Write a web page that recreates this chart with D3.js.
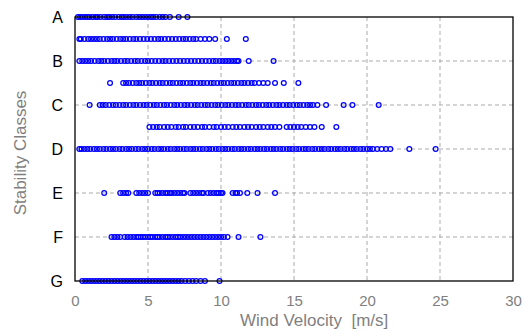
<!DOCTYPE html>
<html>
<head>
<meta charset="utf-8">
<script src="https://cdn.jsdelivr.net/npm/d3@7"></script>
<style>
  body { margin: 0; background: #fff; }
  text { font-family: Arial, "Liberation Sans", sans-serif; }
</style>
</head>
<body>
<svg id="chart" width="524" height="331"></svg>
<script>
// Stability class labels (one tick per class) and wind-speed axis ticks
const classLabels = ["A", "B", "C", "D", "E", "F", "G"];
const speedTicks = [0, 5, 10, 15, 20, 25, 30];

// Observed wind velocities [m/s] per stability class (and the transitional rows between them)
const speedsA = [0.2, 0.35, 0.5, 0.7, 0.85, 1.0, 1.2, 1.4, 1.55, 1.75, 2.0, 2.2, 2.35, 2.55, 2.75, 3.0, 3.2, 3.35,
  3.55, 3.75, 3.95, 4.2, 4.4, 4.6, 4.8, 5.0, 5.2, 5.35, 5.55, 5.8, 6.0, 6.2, 6.5, 7.1, 7.7];
const speedsAB = [0.3, 0.4, 0.65, 0.9, 1.1, 1.3, 1.5, 1.7, 1.95, 2.2, 2.4, 2.6, 2.85, 3.1, 3.3, 3.5, 3.75, 4.0, 4.2,
  4.45, 4.7, 4.95, 5.2, 5.45, 5.7, 5.9, 6.15, 6.4, 6.65, 6.9, 7.15, 7.4, 7.6, 7.85, 8.1, 8.3, 8.6, 8.9, 9.2, 9.6,
  10.4, 11.7];
const speedsB = [0.3, 0.5, 0.7, 0.9, 1.1, 1.35, 1.6, 1.8, 2.0, 2.25, 2.5, 2.7, 2.9, 3.15, 3.4, 3.6, 3.85, 4.1, 4.3,
  4.55, 4.8, 5.0, 5.25, 5.5, 5.75, 6.0, 6.2, 6.45, 6.7, 6.95, 7.2, 7.45, 7.7, 7.95, 8.2, 8.45, 8.7, 8.95, 9.2, 9.45,
  9.65, 9.9, 10.1, 10.3, 10.5, 10.7, 10.9, 11.1, 11.2, 11.9, 13.6];
const speedsBC = [2.4, 3.3, 3.5, 3.7, 3.95, 4.2, 4.4, 4.6, 4.85, 5.1, 5.3, 5.55, 5.8, 6.0, 6.25, 6.5, 6.7, 6.95, 7.2,
  7.4, 7.65, 7.9, 8.1, 8.35, 8.6, 8.8, 9.05, 9.3, 9.5, 9.75, 10.0, 10.2, 10.45, 10.7, 10.9, 11.15, 11.4, 11.6, 11.85,
  12.1, 12.3, 12.6, 12.9, 13.2, 13.7, 14.3, 15.3];
const speedsC = [1.0, 1.7, 1.9, 2.1, 2.35, 2.6, 2.8, 3.05, 3.3, 3.5, 3.75, 4.0, 4.2, 4.45, 4.7, 4.9, 5.15, 5.4, 5.6,
  5.85, 6.1, 6.3, 6.55, 6.8, 7.0, 7.25, 7.5, 7.7, 7.95, 8.2, 8.4, 8.65, 8.9, 9.1, 9.35, 9.6, 9.8, 10.05, 10.3, 10.5,
  10.75, 11.0, 11.2, 11.45, 11.7, 11.9, 12.15, 12.4, 12.6, 12.85, 13.1, 13.3, 13.55, 13.8, 14.0, 14.25, 14.5, 14.7,
  14.95, 15.2, 15.4, 15.65, 15.9, 16.1, 16.3, 16.6, 17.2, 18.4, 19.0, 20.8];
const speedsCD = [5.1, 5.35, 5.6, 5.8, 6.1, 6.35, 6.6, 6.9, 7.1, 7.4, 7.6, 7.9, 8.15, 8.4, 8.7, 8.9, 9.2, 9.5, 9.7,
  10.0, 10.25, 10.5, 10.8, 11.05, 11.3, 11.6, 11.85, 12.1, 12.4, 12.65, 12.9, 13.2, 13.45, 13.7, 14.0, 14.5, 14.75,
  15.0, 15.25, 15.5, 15.8, 16.1, 16.4, 16.9, 17.9];
const speedsD = [0.3, 0.45, 0.65, 0.85, 1.05, 1.3, 1.5, 1.7, 1.95, 2.15, 2.4, 2.6, 2.8, 3.05, 3.25, 3.5, 3.7, 3.9,
  4.15, 4.35, 4.6, 4.8, 5.0, 5.25, 5.45, 5.7, 5.9, 6.1, 6.35, 6.55, 6.8, 7.0, 7.2, 7.45, 7.65, 7.9, 8.1, 8.3, 8.55,
  8.75, 9.0, 9.2, 9.4, 9.65, 9.85, 10.1, 10.3, 10.5, 10.75, 10.95, 11.2, 11.4, 11.6, 11.85, 12.05, 12.3, 12.5, 12.7,
  12.95, 13.15, 13.4, 13.6, 13.8, 14.05, 14.25, 14.5, 14.7, 14.9, 15.15, 15.35, 15.6, 15.8, 16.0, 16.25, 16.45, 16.7,
  16.9, 17.1, 17.35, 17.55, 17.8, 18.0, 18.2, 18.45, 18.65, 18.9, 19.1, 19.3, 19.55, 19.75, 20.0, 20.2, 20.4, 20.7,
  21.0, 21.3, 21.6, 22.9, 24.7];
const speedsDE = [];
const speedsE = [2.0, 3.1, 3.3, 3.5, 3.65, 4.2, 4.4, 4.6, 4.8, 5.0, 5.5, 5.65, 5.8, 6.0, 6.2, 6.35, 6.5, 6.6, 6.8, 7.0,
  7.2, 7.4, 7.5, 7.9, 8.1, 8.3, 8.5, 8.7, 8.8, 9.1, 9.3, 9.5, 9.7, 9.85, 10.0, 10.1, 10.8, 11.0, 11.1, 11.3, 11.8,
  12.5, 13.7];
const speedsEF = [];
const speedsF = [2.5, 2.7, 2.9, 3.1, 3.4, 3.6, 3.8, 4.0, 4.2, 4.35, 4.5, 4.65, 4.8, 5.0, 5.15, 5.3, 5.5, 5.65, 5.8,
  6.0, 6.2, 6.35, 6.5, 6.7, 6.9, 7.05, 7.2, 7.4, 7.6, 7.8, 8.0, 8.2, 8.4, 8.6, 8.8, 9.0, 9.2, 9.4, 9.6, 9.8, 10.0,
  10.2, 10.45, 11.2, 12.7];
const speedsFG = [];
const speedsG = [0.5, 0.7, 0.9, 1.1, 1.3, 1.5, 1.7, 1.9, 2.1, 2.3, 2.5, 2.7, 2.9, 3.1, 3.3, 3.5, 3.7, 3.9, 4.1, 4.3,
  4.5, 4.7, 4.9, 5.1, 5.3, 5.5, 5.7, 5.9, 6.1, 6.3, 6.5, 6.7, 6.9, 7.1, 7.3, 7.55, 7.8, 8.05, 8.3, 8.6, 8.9, 9.9];

// Row position on the class axis: 1 = A ... 7 = G, halves are transitional classes
const rowLevels = [1, 1.5, 2, 2.5, 3, 3.5, 4, 4.5, 5, 5.5, 6, 6.5, 7];
const rowSpeeds = [speedsA, speedsAB, speedsB, speedsBC, speedsC, speedsCD, speedsD, speedsDE,
  speedsE, speedsEF, speedsF, speedsFG, speedsG];

const points = [];
rowLevels.forEach((lvl, i) => rowSpeeds[i].forEach(v => points.push({ level: lvl, speed: v })));

const svg = d3.select("#chart");
const plot = { left: 75, right: 513, top: 17, bottom: 281 };

const x = d3.scaleLinear().domain([0, 30]).range([plot.left, plot.right]);
const y = d3.scaleLinear().domain([1, 7]).range([plot.top, plot.bottom]);

// Dashed grid
const grid = svg.append("g").attr("stroke", "#ababab").attr("stroke-width", 1)
  .attr("stroke-dasharray", "4,3").attr("fill", "none");
grid.selectAll("line.v").data(speedTicks.slice(1, -1)).join("line").attr("class", "v")
  .attr("x1", d => x(d)).attr("x2", d => x(d)).attr("y1", plot.top).attr("y2", plot.bottom);
grid.selectAll("line.h").data(d3.range(2, 7)).join("line").attr("class", "h")
  .attr("x1", plot.left).attr("x2", plot.right).attr("y1", d => y(d)).attr("y2", d => y(d));

// Markers
svg.append("g").selectAll("circle").data(points).join("circle")
  .attr("cx", d => x(d.speed)).attr("cy", d => y(d.level)).attr("r", 2.4)
  .attr("fill", "none").attr("stroke", "#0000ff").attr("stroke-width", 1.25);

// Axes
const xAxis = svg.append("g").attr("transform", `translate(0,${plot.bottom})`)
  .call(d3.axisBottom(x).tickValues(speedTicks).tickFormat(d3.format("d")).tickSize(0).tickPadding(14));
xAxis.select(".domain").remove();
xAxis.selectAll("text").attr("fill", "#7f7f7f").attr("font-size", 15).style("font-family", "Arial, 'Liberation Sans', sans-serif");

const yAxis = svg.append("g").attr("transform", `translate(${plot.left},0)`)
  .call(d3.axisLeft(y).tickValues(d3.range(1, 8)).tickFormat(d => classLabels[d - 1]).tickSize(0).tickPadding(12));
yAxis.select(".domain").remove();
yAxis.selectAll("text").attr("fill", "#000").attr("font-size", 16).style("font-family", "Arial, 'Liberation Sans', sans-serif");

// Frame
svg.append("rect").attr("x", plot.left).attr("y", plot.top)
  .attr("width", plot.right - plot.left).attr("height", plot.bottom - plot.top)
  .attr("fill", "none").attr("stroke", "#000").attr("stroke-width", 1.3);

// Axis titles
svg.append("text").attr("x", 240).attr("y", 326).attr("fill", "#7f7f7f").attr("font-size", 17)
  .style("white-space", "pre").text("Wind Velocity  [m/s]");
svg.append("text").attr("transform", `translate(26,153) rotate(-90)`)
  .attr("text-anchor", "middle").attr("fill", "#7f7f7f").attr("font-size", 17)
  .text("Stability Classes");
</script>
</body>
</html>
